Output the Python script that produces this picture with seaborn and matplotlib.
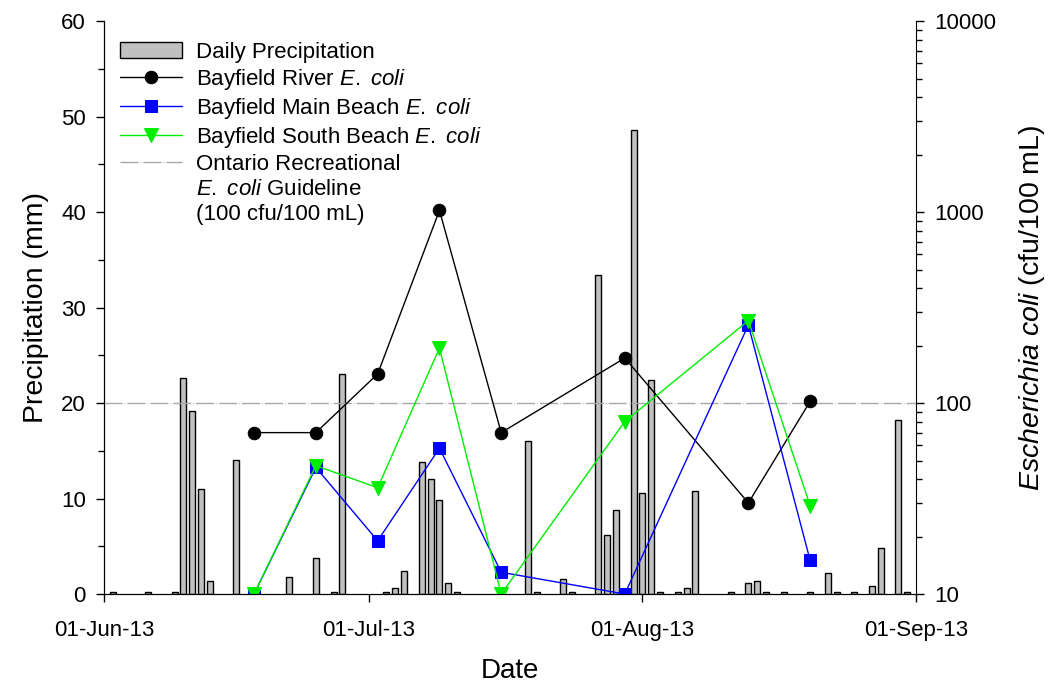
import numpy as np
import pandas as pd
import matplotlib
matplotlib.use('Agg')
import matplotlib.pyplot as plt
import matplotlib.dates as mdates
import matplotlib.ticker as mticker
from matplotlib.patches import Patch
from matplotlib.lines import Line2D
import seaborn as sns

# daily precipitation (mm)
rain_dates = ['2013-06-02', '2013-06-06', '2013-06-09', '2013-06-10', '2013-06-11',
              '2013-06-12', '2013-06-13', '2013-06-16', '2013-06-22', '2013-06-25',
              '2013-06-27', '2013-06-28', '2013-07-03', '2013-07-04', '2013-07-05',
              '2013-07-07', '2013-07-08', '2013-07-09', '2013-07-10', '2013-07-11',
              '2013-07-19', '2013-07-20', '2013-07-23', '2013-07-24', '2013-07-27',
              '2013-07-28', '2013-07-29', '2013-07-31', '2013-08-01', '2013-08-02',
              '2013-08-03', '2013-08-05', '2013-08-06', '2013-08-07', '2013-08-11',
              '2013-08-13', '2013-08-14', '2013-08-15', '2013-08-17', '2013-08-20',
              '2013-08-22', '2013-08-23', '2013-08-25', '2013-08-27', '2013-08-28',
              '2013-08-30', '2013-08-31']
rain_mm = [0.2, 0.2, 0.2, 22.6, 19.2,
           11.0, 1.4, 14.0, 1.8, 3.8,
           0.2, 23.0, 0.2, 0.6, 2.4,
           13.8, 12.0, 9.8, 1.2, 0.2,
           16.0, 0.2, 1.6, 0.2, 33.4,
           6.2, 8.8, 48.6, 10.6, 22.4,
           0.2, 0.2, 0.6, 10.8, 0.2,
           1.2, 1.4, 0.2, 0.2, 0.2,
           2.2, 0.2, 0.2, 0.8, 4.8,
           18.2, 0.2]

# E. coli samples (cfu/100 mL)
sample_dates = ['2013-06-18', '2013-06-25', '2013-07-02', '2013-07-09',
                '2013-07-16', '2013-07-30', '2013-08-13', '2013-08-20']
river_ecoli = [70, 70, 142, 1020, 70, 172, 30, 102]
main_beach_ecoli = [10, 46, 19, 58, 13, 10, 256, 15]
south_beach_ecoli = [10, 47, 36, 194, 10, 80, 270, 29]
guideline = 100

sns.set_style('ticks')
plt.rcParams['font.family'] = ['Liberation Sans', 'DejaVu Sans']
plt.rcParams['mathtext.fontset'] = 'custom'
plt.rcParams['mathtext.rm'] = 'Liberation Sans'
plt.rcParams['mathtext.it'] = 'Liberation Sans:italic'
plt.rcParams['xtick.color'] = 'black'
plt.rcParams['ytick.color'] = 'black'
plt.rcParams['text.color'] = 'black'
plt.rcParams['axes.labelcolor'] = 'black'
plt.rcParams['axes.edgecolor'] = 'black'

rain = pd.DataFrame({'date': mdates.date2num(pd.to_datetime(rain_dates)), 'mm': rain_mm})
ecoli = pd.DataFrame({'date': mdates.date2num(pd.to_datetime(sample_dates)),
                      'river': river_ecoli,
                      'main': main_beach_ecoli,
                      'south': south_beach_ecoli})

fig, ax = plt.subplots(figsize=(10.51, 6.85), dpi=100)
fig.subplots_adjust(left=0.099, right=0.8716, top=0.9693, bottom=0.1328)

sns.barplot(data=rain, x='date', y='mm', native_scale=True, width=0.68,
            color='#c0c0c0', saturation=1, edgecolor='black', linewidth=1,
            errorbar=None, ax=ax)

ax2 = ax.twinx()
ax2.set_yscale('log')
guide_style = dict(color='#a8a8a8', lw=1, dashes=(13, 1.5, 0.5, 1.5))
ax2.axhline(guideline, zorder=1, **guide_style)
sns.lineplot(data=ecoli, x='date', y='river', ax=ax2, color='black', marker='o',
             markersize=9, markeredgecolor='black', linewidth=1)
sns.lineplot(data=ecoli, x='date', y='main', ax=ax2, color='blue', marker='s',
             markersize=9, markeredgecolor='blue', linewidth=1)
sns.lineplot(data=ecoli, x='date', y='south', ax=ax2, color='#00ee00', marker='v',
             markersize=10, markeredgecolor='#00ee00', linewidth=1)

start = mdates.date2num(pd.Timestamp('2013-06-01'))
end = mdates.date2num(pd.Timestamp('2013-09-01'))
ax.set_xlim(start, end)
ax.set_ylim(0, 60)
ax2.set_ylim(10, 10000)

ax.xaxis.set_major_locator(mdates.MonthLocator())
ax.xaxis.set_major_formatter(mdates.DateFormatter('%d-%b-%y'))
ax.xaxis.set_minor_locator(mticker.NullLocator())
ax.yaxis.set_major_locator(mticker.MultipleLocator(10))
ax.yaxis.set_minor_locator(mticker.MultipleLocator(5))
ax2.yaxis.set_major_locator(mticker.LogLocator(base=10))
ax2.yaxis.set_minor_locator(mticker.LogLocator(base=10, subs=np.arange(2, 10)))
ax2.yaxis.set_major_formatter(mticker.FuncFormatter(lambda v, p: f'{v:g}'))
ax2.yaxis.set_minor_formatter(mticker.NullFormatter())

for a in (ax, ax2):
    a.spines['top'].set_visible(False)
    a.tick_params(which='major', direction='out', length=6, width=1, labelsize=16, pad=7)
    a.tick_params(which='minor', direction='out', length=4, width=1)
ax.spines['right'].set_visible(False)
ax.tick_params(axis='x', pad=13)

ax.set_xlabel('Date', fontsize=20, labelpad=12)
ax.set_ylabel('Precipitation (mm)', fontsize=20.5, labelpad=9)
ax2.set_ylabel(r'$\mathit{Escherichia}$ $\mathit{coli}$ (cfu/100 mL)', fontsize=20.5,
               labelpad=15)

ecoli_it = r'$\mathit{E.}$ $\mathit{coli}$'
blank = Line2D([], [], linestyle='none', marker=None)
handles = [Patch(facecolor='#c0c0c0', edgecolor='black', linewidth=1)]
line_handles = ax2.get_lines()
handles += [line_handles[1], line_handles[2], line_handles[3],
            Line2D([], [], **guide_style), blank, blank]
labels = ['Daily Precipitation',
          'Bayfield River ' + ecoli_it,
          'Bayfield Main Beach ' + ecoli_it,
          'Bayfield South Beach ' + ecoli_it,
          'Ontario Recreational',
          ecoli_it + ' Guideline',
          '(100 cfu/100 mL)']
ax2.legend(handles, labels, loc='upper left', bbox_to_anchor=(0.0197, 0.964),
           frameon=False, fontsize=16, handlelength=2.8, handletextpad=0.6,
           labelspacing=0.18, borderpad=0, borderaxespad=0)

fig.savefig('out.png', dpi=100)
